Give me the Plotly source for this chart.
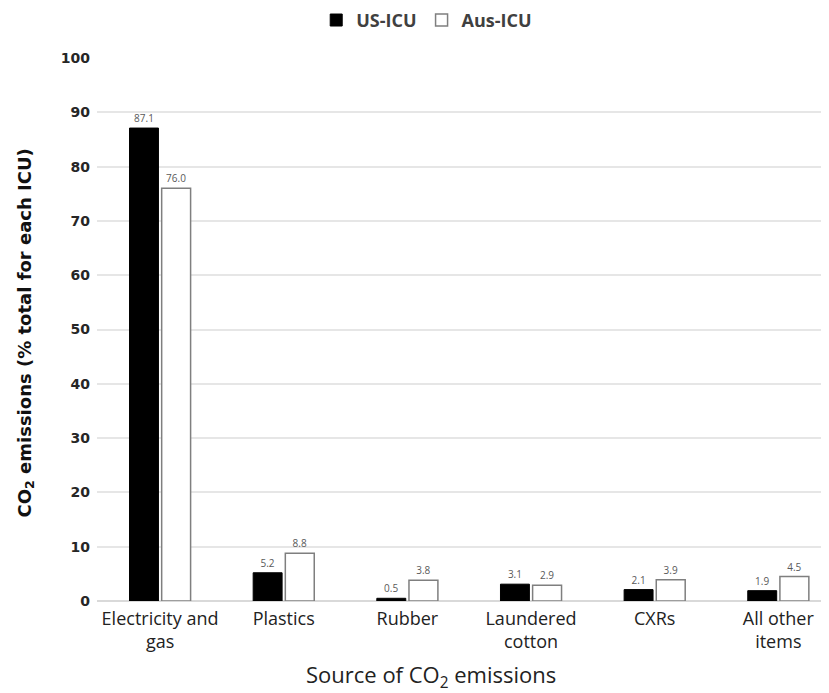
import plotly.graph_objects as go

categories = ["Electricity and<br>gas", "Plastics", "Rubber", "Laundered<br>cotton", "CXRs", "All other<br>items"]
us_icu = [87.1, 5.2, 0.5, 3.1, 2.1, 1.9]
aus_icu = [76.0, 8.8, 3.8, 2.9, 3.9, 4.5]
y_ticks = [0, 10, 20, 30, 40, 50, 60, 70, 80, 90, 100]

label_font = dict(size=10, color="#595959", family="Open Sans")

fig = go.Figure()
fig.add_trace(go.Bar(
    name="US-ICU", x=categories, y=us_icu,
    marker=dict(color="black", line=dict(color="black", width=1)),
    texttemplate="%{y:.1f}", textposition="outside",
    textfont=label_font, cliponaxis=False,
))
fig.add_trace(go.Bar(
    name="Aus-ICU", x=categories, y=aus_icu,
    marker=dict(color="white", line=dict(color="#7f7f7f", width=1.5)),
    texttemplate="%{y:.1f}", textposition="outside",
    textfont=label_font, cliponaxis=False,
))

# page body has an 8px margin, so the figure is sized to fit the 829x693 window
fig.update_layout(
    width=821, height=685,
    paper_bgcolor="white", plot_bgcolor="white",
    margin=dict(l=89, r=0, t=50, b=92, autoexpand=False),
    barmode="group", bargap=0.48, bargroupgap=0.1,
    showlegend=True,
    legend=dict(orientation="h", x=0.51, xref="container", xanchor="center",
                y=0.982, yref="container", yanchor="middle",
                font=dict(size=18, color="#404040", family="Open Sans", weight="bold"),
                traceorder="normal", tracegroupgap=0),
    xaxis=dict(
        range=[-0.51, 5.41], automargin=False,
        tickfont=dict(size=18, color="#222222", family="Open Sans"),
        showgrid=False, showline=False, ticks="", ticklabelstandoff=5,
    ),
    yaxis=dict(
        range=[0, 100], tickvals=y_ticks, automargin=False,
        tickfont=dict(size=14, color="#262626", family="DejaVu Sans", weight="bold"),
        showgrid=True, gridcolor="#e6e6e6", gridwidth=1.5,
        zeroline=True, zerolinecolor="#d9d9d9", zerolinewidth=1.5,
        showline=False, ticks="", ticklabelstandoff=6,
    ),
    annotations=[
        dict(
            text="Source of CO<sub>2</sub> emissions",
            xref="paper", yref="paper", x=0.456, y=0, yshift=-75,
            xanchor="center", yanchor="middle", showarrow=False,
            font=dict(size=22, color="#222222", family="Open Sans"),
        ),
        dict(
            text="CO<sub>2</sub> emissions (% total for each ICU)",
            xref="paper", yref="paper", x=0, y=0.5, xshift=-72, yshift=-4,
            xanchor="center", yanchor="middle", showarrow=False, textangle=-90,
            font=dict(size=18, color="#111111", family="DejaVu Sans", weight="bold"),
        ),
    ],
)

fig.write_html("out.html")
